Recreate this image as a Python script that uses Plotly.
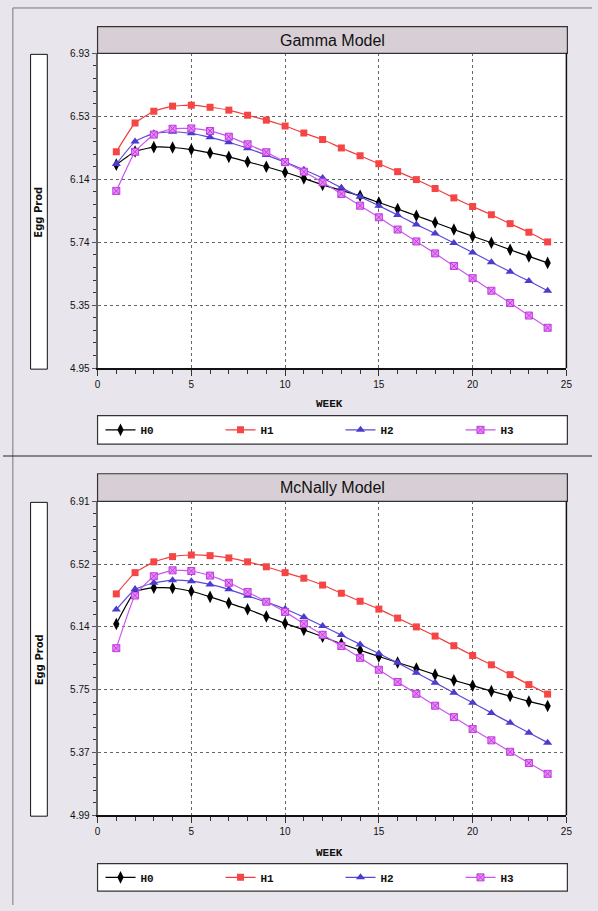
import plotly.graph_objects as go

W, H = 598, 911

weeks = list(range(1, 25))
series_names = ["H0", "H1", "H2", "H3"]

gamma_H0 = [6.230, 6.313, 6.340, 6.338, 6.325, 6.304, 6.279, 6.248, 6.217, 6.182, 6.144, 6.103,
            6.068, 6.034, 5.992, 5.951, 5.909, 5.866, 5.822, 5.780, 5.739, 5.695, 5.653, 5.612]
gamma_H1 = [6.311, 6.492, 6.566, 6.598, 6.604, 6.591, 6.573, 6.541, 6.510, 6.473, 6.429, 6.388,
            6.335, 6.286, 6.236, 6.186, 6.136, 6.080, 6.021, 5.967, 5.915, 5.859, 5.805, 5.744]
gamma_H2 = [6.234, 6.375, 6.427, 6.437, 6.427, 6.402, 6.371, 6.333, 6.290, 6.246, 6.198, 6.146,
            6.084, 6.028, 5.972, 5.913, 5.853, 5.797, 5.737, 5.678, 5.616, 5.556, 5.498, 5.437]
gamma_H3 = [6.065, 6.311, 6.419, 6.456, 6.458, 6.442, 6.406, 6.358, 6.308, 6.246, 6.186, 6.119,
            6.046, 5.972, 5.899, 5.822, 5.747, 5.672, 5.593, 5.516, 5.437, 5.360, 5.281, 5.204]

mcnally_H0 = [6.156, 6.354, 6.378, 6.376, 6.356, 6.322, 6.284, 6.246, 6.202, 6.160, 6.120, 6.078,
              6.035, 5.995, 5.957, 5.920, 5.884, 5.846, 5.811, 5.779, 5.745, 5.715, 5.682, 5.654]
mcnally_H1 = [6.340, 6.470, 6.536, 6.568, 6.578, 6.574, 6.560, 6.536, 6.506, 6.470, 6.436, 6.394,
              6.344, 6.295, 6.247, 6.192, 6.138, 6.082, 6.023, 5.963, 5.906, 5.846, 5.785, 5.727]
mcnally_H2 = [6.244, 6.368, 6.408, 6.424, 6.418, 6.398, 6.368, 6.328, 6.290, 6.248, 6.198, 6.144,
              6.088, 6.031, 5.975, 5.918, 5.858, 5.797, 5.735, 5.674, 5.612, 5.551, 5.491, 5.430]
mcnally_H3 = [6.008, 6.330, 6.448, 6.484, 6.480, 6.452, 6.408, 6.352, 6.292, 6.230, 6.158, 6.090,
              6.021, 5.949, 5.876, 5.801, 5.729, 5.656, 5.586, 5.513, 5.444, 5.374, 5.305, 5.239]

gamma_yticks = ["4.95", "5.35", "5.74", "6.14", "6.53", "6.93"]
gamma_yrange = [4.95, 6.93]
mcnally_yticks = ["4.99", "5.37", "5.75", "6.14", "6.52", "6.91"]
mcnally_yrange = [4.986, 6.906]
x_ticks = [0, 5, 10, 15, 20, 25]

titles = ["Gamma Model", "McNally Model"]

styles = {
    "H0": dict(line=dict(color="#000000", width=1.2),
               marker=dict(symbol="diamond-tall", size=9, color="#000000")),
    "H1": dict(line=dict(color="#f23d3d", width=1.2),
               marker=dict(symbol="square", size=7, color="#f54545")),
    "H2": dict(line=dict(color="#5a4ad8", width=1.2),
               marker=dict(symbol="triangle-up", size=8, color="#4b3bcf")),
    "H3": dict(line=dict(color="#cc55ee", width=1.2),
               marker=dict(symbol="square-x", size=7, color="#e58cf5",
                           line=dict(color="#c03adf", width=1))),
}

def X(p):
    return p / W

def Y(p):
    return 1 - p / H

fig = go.Figure()

panels = [
    dict(data=[gamma_H0, gamma_H1, gamma_H2, gamma_H3], ticks=gamma_yticks, yr=gamma_yrange,
         top=48, bot=367, title_top=21, leg=(415, 444), week_y=403, legend="legend"),
    dict(data=[mcnally_H0, mcnally_H1, mcnally_H2, mcnally_H3], ticks=mcnally_yticks, yr=mcnally_yrange,
         top=502, bot=820, title_top=474, leg=(869, 897), week_y=858, legend="legend2"),
]

PL, PR = 96, 572
shapes = []
annotations = []

for i, p in enumerate(panels):
    sfx = "" if i == 0 else str(i + 1)
    for name, vals in zip(series_names, p["data"]):
        fig.add_trace(go.Scatter(
            x=weeks, y=vals, name=name, mode="lines+markers",
            xaxis="x" + sfx, yaxis="y" + sfx, legend=p["legend"],
            line=dict(shape="spline", smoothing=0.4, **styles[name]["line"]),
            marker=styles[name]["marker"], cliponaxis=False,
        ))
    y0, y1 = p["yr"]
    step = (y1 - y0) / 5
    major = [y0 + k * step for k in range(6)]
    minor = [y0 + k * step / 5 for k in range(26) if k % 5 != 0]
    dom_y = [Y(p["bot"]), Y(p["top"])]
    fig.update_layout(**{
        "xaxis" + sfx: dict(
            domain=[X(PL), X(PR)], range=[0, 25], anchor="y" + sfx,
            tickmode="array", tickvals=x_ticks, ticks="outside", ticklen=6, tickwidth=1,
            tickcolor="#333", minor=dict(tickmode="linear", tick0=0, dtick=1, ticks="outside",
                                         ticklen=4, tickcolor="#333", showgrid=False),
            showgrid=True, gridcolor="#666", griddash="dot", gridwidth=1,
            showline=True, linecolor="#111", linewidth=1.5, zeroline=False,
            tickfont=dict(family="Liberation Sans", size=10, color="#111"),
        ),
        "yaxis" + sfx: dict(
            domain=dom_y, range=[y0, y1], anchor="x" + sfx,
            tickmode="array", tickvals=major, ticktext=p["ticks"], ticks="outside", ticklen=4,
            tickcolor="#555",
            minor=dict(tickmode="array", tickvals=minor, ticks="outside", ticklen=3,
                       tickcolor="#333", showgrid=False),
            showgrid=True, gridcolor="#666", griddash="dot", gridwidth=1,
            showline=True, linecolor="#666", linewidth=2, zeroline=False,
            tickfont=dict(family="Liberation Sans", size=10, color="#111"),
        ),
    })
    shapes.append(dict(type="rect", xref="paper", yref="paper",
                       x0=X(PL), x1=X(573), y0=Y(p["top"]), y1=Y(p["title_top"]),
                       fillcolor="#d8cfd6", line=dict(color="#333", width=1.2)))
    annotations.append(dict(text=titles[i], xref="paper", yref="paper",
                            x=X((PL + 573) / 2), y=Y((p["top"] + p["title_top"]) / 2),
                            showarrow=False, xanchor="center", yanchor="middle",
                            font=dict(family="Liberation Sans", size=16, color="#111")))
    shapes.append(dict(type="line", xref="paper", yref="paper",
                       x0=X(PR), x1=X(PR), y0=Y(p["bot"]), y1=Y(p["top"]),
                       line=dict(color="#111", width=1.5)))
    shapes.append(dict(type="rect", xref="paper", yref="paper",
                       x0=X(28), x1=X(45), y0=Y(p["bot"] + 1), y1=Y(p["top"] + 1),
                       fillcolor="white", line=dict(color="#111", width=1)))
    annotations.append(dict(text="<b>Egg Prod</b>", xref="paper", yref="paper",
                            x=X(36.5), y=Y((p["top"] + p["bot"]) / 2 + 1), textangle=-90,
                            showarrow=False, xanchor="center", yanchor="middle",
                            font=dict(family="DejaVu Sans", size=10, color="#111")))
    annotations.append(dict(text="<b>WEEK</b>", xref="paper", yref="paper",
                            x=X(331), y=Y(p["week_y"]), showarrow=False,
                            xanchor="center", yanchor="middle",
                            font=dict(family="Liberation Mono", size=11, color="#111")))
    shapes.append(dict(type="rect", xref="paper", yref="paper",
                       x0=X(PL), x1=X(573), y0=Y(p["leg"][1]), y1=Y(p["leg"][0]),
                       fillcolor="white", line=dict(color="#333", width=1.2)))
    fig.update_layout(**{
        p["legend"]: dict(orientation="h", x=X(99), y=Y((p["leg"][0] + p["leg"][1]) / 2),
                          xanchor="left", yanchor="middle", bgcolor="rgba(0,0,0,0)",
                          borderwidth=0, entrywidth=75, entrywidthmode="pixels",
                          itemwidth=30,
                          font=dict(family="Liberation Mono", size=11, color="#111",
                                    weight="bold")),
    })

shapes.append(dict(type="line", xref="paper", yref="paper", x0=X(10), x1=1, y0=Y(2), y1=Y(2),
                   line=dict(color="#777", width=1)))
shapes.append(dict(type="line", xref="paper", yref="paper", x0=X(10), x1=X(10), y0=0, y1=Y(2),
                   line=dict(color="#777", width=1)))
shapes.append(dict(type="line", xref="paper", yref="paper", x0=0, x1=1, y0=Y(456), y1=Y(456),
                   line=dict(color="#222", width=1.2)))

fig.update_layout(
    width=W, height=H, margin=dict(l=0, r=0, t=0, b=0),
    paper_bgcolor="#e8e6ec", plot_bgcolor="white",
    shapes=shapes, annotations=annotations, showlegend=True,
)

fig.write_html("out.html", config={"displayModeBar": False},
               post_script="document.body.style.margin='0';document.documentElement.style.overflow='hidden';document.body.style.overflow='hidden';")
